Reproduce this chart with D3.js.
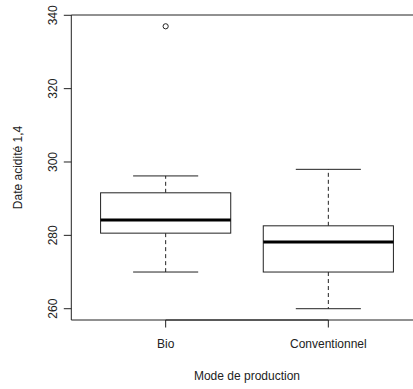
<!DOCTYPE html>
<html>
<head>
<meta charset="utf-8">
<script src="https://cdn.jsdelivr.net/npm/d3@7"></script>
<style>
  html, body { margin: 0; padding: 0; background: #fff; overflow: hidden; }
  svg { display: block; font-family: "Liberation Sans", Arial, sans-serif; }
</style>
</head>
<body>
<div id="chart"></div>
<script>
'use strict';

// values
var groups = ['Bio', 'Conventionnel'];
var whiskerLow = [270, 260];
var q1 = [280.6, 270];
var medians = [284.2, 278.2];
var q3 = [291.6, 282.6];
var whiskerHigh = [296.2, 298];
var outliers = [[337], []];
var yTicks = [260, 280, 300, 320, 340];

var width = 413, height = 389;
var plot = {left: 71.3, right: 422.7, top: 15, bottom: 320};

var svg = d3.select('#chart').append('svg')
  .attr('width', width)
  .attr('height', height);

// R style: xlim = [0.5, 2.5] extended by 4%
var x = d3.scaleLinear()
  .domain([0.42, 2.58])
  .range([plot.left, plot.right]);

var y = d3.scaleLinear()
  .domain([256.92, 340.08])
  .range([plot.bottom, plot.top]);

var boxHalf = 0.4, stapleHalf = 0.2;
var ink = '#222';

var g = svg.append('g');

groups.forEach(function(name, i) {
  var cx = x(i + 1);
  var grp = g.append('g').attr('class', 'box');

  // whiskers (dashed)
  grp.append('line')
    .attr('x1', cx).attr('x2', cx)
    .attr('y1', y(q3[i])).attr('y2', y(whiskerHigh[i]))
    .attr('stroke', ink).attr('stroke-dasharray', '4,3');
  grp.append('line')
    .attr('x1', cx).attr('x2', cx)
    .attr('y1', y(q1[i])).attr('y2', y(whiskerLow[i]))
    .attr('stroke', ink).attr('stroke-dasharray', '4,3');

  // staples
  [whiskerLow[i], whiskerHigh[i]].forEach(function(v) {
    grp.append('line')
      .attr('x1', x(i + 1 - stapleHalf)).attr('x2', x(i + 1 + stapleHalf))
      .attr('y1', y(v)).attr('y2', y(v))
      .attr('stroke', ink);
  });

  // box
  grp.append('rect')
    .attr('x', x(i + 1 - boxHalf))
    .attr('width', x(i + 1 + boxHalf) - x(i + 1 - boxHalf))
    .attr('y', y(q3[i]))
    .attr('height', y(q1[i]) - y(q3[i]))
    .attr('fill', 'white')
    .attr('stroke', ink);

  // median
  grp.append('line')
    .attr('x1', x(i + 1 - boxHalf)).attr('x2', x(i + 1 + boxHalf))
    .attr('y1', y(medians[i])).attr('y2', y(medians[i]))
    .attr('stroke', '#000').attr('stroke-width', 3);

  // outliers
  grp.selectAll('circle')
    .data(outliers[i])
    .enter()
    .append('circle')
    .attr('cx', cx)
    .attr('cy', function(d) { return y(d); })
    .attr('r', 2.6)
    .attr('fill', 'none')
    .attr('stroke', ink);
});

// plot frame: right side falls outside the picture
var frame = [
  [plot.left, plot.top, plot.right + 5, plot.top],
  [plot.left, plot.top, plot.left, plot.bottom],
  [plot.left, plot.bottom, plot.right + 5, plot.bottom]
];
svg.selectAll('line.frame')
  .data(frame)
  .enter()
  .append('line')
  .attr('class', 'frame')
  .attr('x1', function(d) { return d[0]; })
  .attr('y1', function(d) { return d[1]; })
  .attr('x2', function(d) { return d[2]; })
  .attr('y2', function(d) { return d[3]; })
  .attr('stroke', ink);

// y axis
var yAxis = svg.append('g')
  .attr('transform', 'translate(' + plot.left + ',0)');
yAxis.selectAll('line')
  .data(yTicks)
  .enter()
  .append('line')
  .attr('x1', -7.5).attr('x2', 0)
  .attr('y1', function(d) { return y(d); })
  .attr('y2', function(d) { return y(d); })
  .attr('stroke', ink);
yAxis.selectAll('text')
  .data(yTicks)
  .enter()
  .append('text')
  .attr('transform', function(d) { return 'translate(-19,' + y(d) + ') rotate(-90)'; })
  .attr('text-anchor', 'middle')
  .attr('dy', '0.35em')
  .style('font-size', '12px')
  .style('fill', ink)
  .text(function(d) { return d; });

// x axis
var xAxis = svg.append('g')
  .attr('transform', 'translate(0,' + plot.bottom + ')');
xAxis.append('line')
  .attr('x1', x(1)).attr('x2', x(groups.length))
  .attr('stroke', ink);
xAxis.selectAll('line.tick')
  .data(groups)
  .enter()
  .append('line')
  .attr('class', 'tick')
  .attr('x1', function(d, i) { return x(i + 1); })
  .attr('x2', function(d, i) { return x(i + 1); })
  .attr('y1', 0).attr('y2', 7.5)
  .attr('stroke', ink);
xAxis.selectAll('text')
  .data(groups)
  .enter()
  .append('text')
  .attr('x', function(d, i) { return x(i + 1); })
  .attr('y', 28)
  .attr('text-anchor', 'middle')
  .style('font-size', '12px')
  .style('fill', ink)
  .text(function(d) { return d; });

// axis titles
svg.append('text')
  .attr('x', x(1.5))
  .attr('y', 380)
  .attr('text-anchor', 'middle')
  .style('font-size', '12px')
  .style('fill', ink)
  .text('Mode de production');

svg.append('text')
  .attr('transform', 'translate(18,' + ((plot.top + plot.bottom) / 2) + ') rotate(-90)')
  .attr('text-anchor', 'middle')
  .attr('dy', '0.35em')
  .style('font-size', '12px')
  .style('fill', ink)
  .text('Date acidité 1,4');
</script>
</body>
</html>
